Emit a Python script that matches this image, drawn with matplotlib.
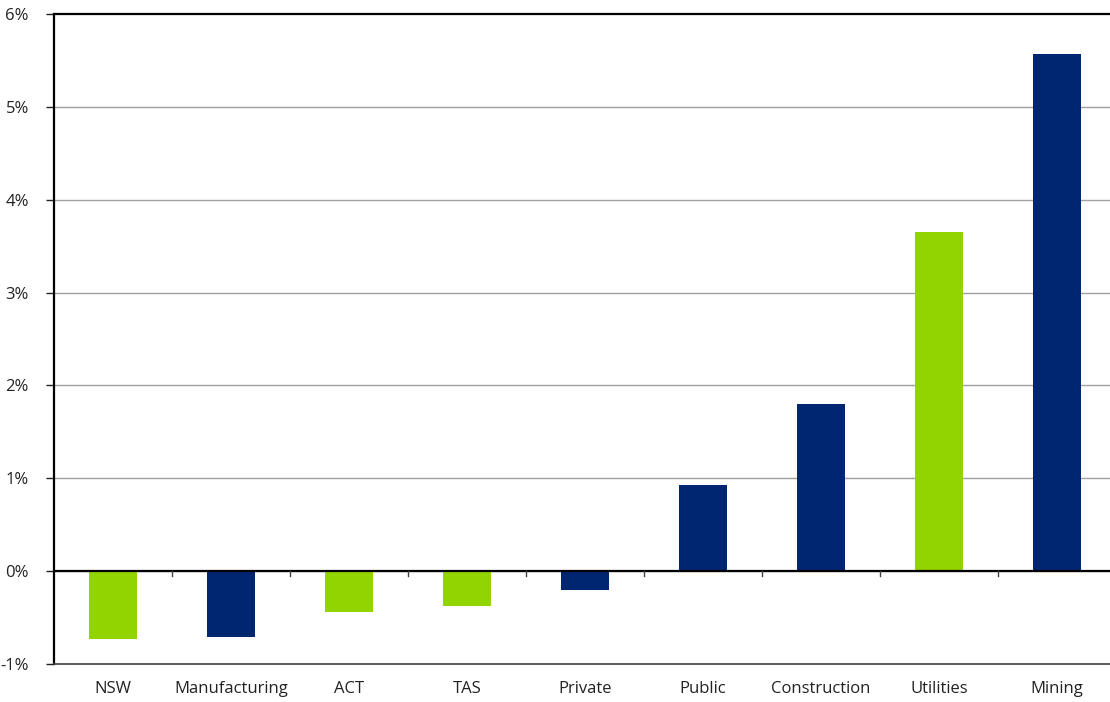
import numpy as np
import matplotlib
matplotlib.use('Agg')
import matplotlib.pyplot as plt
from matplotlib.ticker import FuncFormatter

# 各行业/州增长率 (%)
categories = ['NSW', 'Manufacturing', 'ACT', 'TAS', 'Private',
              'Public', 'Construction', 'Utilities', 'Mining']
growth = [-0.73, -0.71, -0.44, -0.37, -0.20, 0.93, 1.80, 3.65, 5.57]
is_state = [True, False, True, True, False, False, False, True, False]

GREEN = '#92d400'
NAVY = '#002672'

plt.rcParams['font.family'] = ['Open Sans', 'DejaVu Sans']

fig = plt.figure(figsize=(11.1, 7.02), dpi=100)
ax = fig.add_axes([54 / 1110, 38 / 702, 1062 / 1110, 650 / 702])

x = np.arange(len(categories))
colors = [GREEN if s else NAVY for s in is_state]
ax.bar(x, growth, width=0.4, color=colors, zorder=3)

ax.set_xlim(-0.5, len(categories) - 0.5)
ax.set_ylim(-1, 6)
ax.set_yticks(range(-1, 7))
ax.yaxis.set_major_formatter(FuncFormatter(lambda v, p: f'{v:.0f}%'))

# 网格线
for v in range(0, 6):
    ax.axhline(v, color='#a0a0a0', linewidth=1, zorder=1)
ax.axhline(0, color='black', linewidth=1.6, zorder=4)

ax.spines['right'].set_visible(False)
ax.spines['top'].set_color('black')
ax.spines['top'].set_linewidth(1.6)
ax.spines['left'].set_linewidth(1.6)
ax.spines['bottom'].set_color('#404040')
ax.spines['bottom'].set_linewidth(1.2)

ax.tick_params(axis='y', direction='out', length=6, width=1, pad=12,
               labelsize=12, colors='#222222')
ax.tick_params(axis='x', length=0, pad=12, labelsize=12, colors='#222222')
ax.set_xticks(x)
ax.set_xticklabels(categories)

# 零线上的分隔刻度
for b in np.arange(0.5, len(categories) - 1, 1.0):
    ax.plot([b, b], [0, -0.05], color='#444444', linewidth=1, zorder=4)

fig.savefig('out.png', dpi=100)
